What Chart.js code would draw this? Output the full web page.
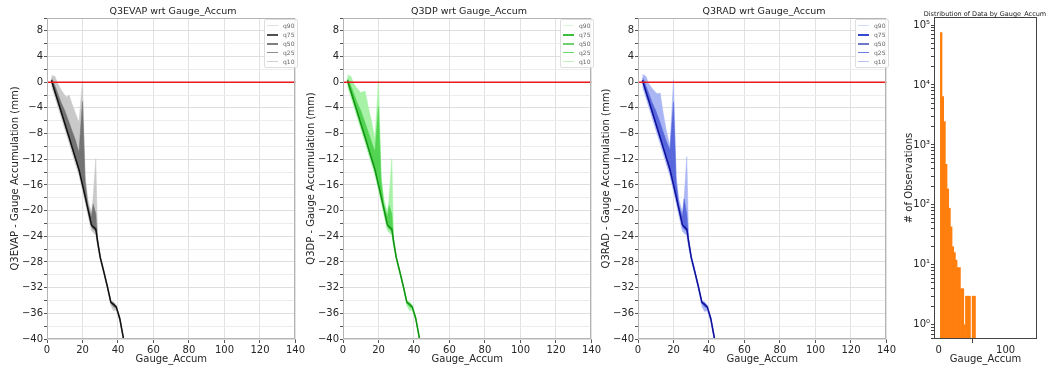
<!DOCTYPE html>
<html>
<head>
<meta charset="utf-8">
<script src="https://cdn.jsdelivr.net/npm/chart.js@4.4.0/dist/chart.umd.min.js"></script>
<style>
body { margin:0; background:#fff; width:1056px; height:369px; position:relative; overflow:hidden; font-family:"DejaVu Sans", sans-serif; }
canvas { position:absolute; top:0; }
.ttl { position:absolute; top:5px; font-size:9.5px; line-height:12px; color:#222; text-align:center; white-space:nowrap; transform:translateX(-50%); }
.leg { position:absolute; border:1px solid #ddd; background:rgba(255,255,255,0.85); border-radius:2px; font-size:6px; color:#666; padding:1px 3px 1px 2px; }
.leg div { height:9px; line-height:9px; display:flex; align-items:center; }
.leg span { display:inline-block; width:11px; margin-right:5px; }
</style>
</head>
<body>
<canvas id="c1" width="306" height="369" style="left:0px"></canvas>
<canvas id="c2" width="306" height="369" style="left:296px"></canvas>
<canvas id="c3" width="306" height="369" style="left:591px"></canvas>
<canvas id="c4" width="166" height="369" style="left:890px"></canvas>

<div class="ttl" style="left:173px">Q3EVAP wrt Gauge_Accum</div>
<div class="ttl" style="left:469px">Q3DP wrt Gauge_Accum</div>
<div class="ttl" style="left:764px">Q3RAD wrt Gauge_Accum</div>
<div class="ttl" style="left:985px;top:8px;font-size:6.5px">Distribution of Data by Gauge_Accum</div>

<div class="leg" id="l1" style="left:264px;top:19px"></div>
<div class="leg" id="l2" style="left:560px;top:19px"></div>
<div class="leg" id="l3" style="left:855px;top:19px"></div>

<script>
// gauge accumulation bins (x) shared by the three quantile panels
var gaugeX = [2.5, 3.5, 4.5, 6, 8, 10, 11, 12.5, 14, 16, 18, 20, 21.5, 23, 25, 26, 27.5, 28.5, 30, 32, 34, 36, 37.5, 39, 41, 43, 45];

// Q3EVAP - gauge
var evapQ90 = [1.0, 1.0, 0.9, -0.2, -1.2, -2.0, -2.3, -2.0, -3.3, -4.8, -6.3, 0.2, -14.5, -18.2, -20.3, -18.0, -11.9, -24.0, -27.0, -29.2, -31.5, -34.0, -34.2, -34.7, -36.5, -39.5, -42.7];
var evapQ75 = [0.6, 0.1, -0.6, -1.7, -3.2, -4.4, -5.2, -6.3, -7.5, -9.0, -11.0, -3.0, -15.5, -19.0, -21.0, -19.0, -20.5, -24.5, -27.2, -29.4, -31.7, -34.2, -34.4, -34.9, -36.7, -39.7, -42.9];
var evapQ50 = [0.3, -0.6, -1.5, -2.8, -4.6, -6.4, -7.3, -8.6, -10.0, -11.8, -13.6, -16.0, -17.8, -19.7, -22.2, -22.5, -22.9, -24.8, -27.3, -29.5, -31.8, -34.3, -34.6, -35.0, -36.8, -39.8, -43.0];
var evapQ25 = [-0.1, -1.0, -1.9, -3.2, -5.0, -6.8, -7.7, -9.0, -10.4, -12.2, -14.0, -16.4, -18.2, -20.1, -22.6, -22.9, -23.3, -25.2, -27.5, -29.7, -32.0, -34.5, -35.0, -35.2, -37.0, -40.0, -43.2];
var evapQ10 = [-0.6, -1.5, -2.4, -3.7, -5.5, -7.3, -8.2, -9.5, -10.9, -12.7, -14.5, -16.9, -18.7, -20.6, -23.1, -23.4, -23.8, -25.6, -27.7, -29.9, -32.2, -34.8, -35.6, -35.5, -37.2, -40.2, -43.4];

// Q3DP - gauge
var dpQ90 = [1.1, 1.0, 0.9, -0.2, -1.0, -1.6, -1.5, -1.4, -3.5, -6.0, -8.8, 0.3, -14.5, -18.2, -20.3, -18.0, -11.9, -24.0, -27.0, -29.2, -31.5, -34.0, -34.2, -34.7, -36.5, -39.5, -42.7];
var dpQ75 = [0.6, 0.1, -0.6, -1.7, -3.2, -4.4, -5.2, -6.3, -7.6, -9.2, -10.8, -3.8, -15.5, -19.0, -21.0, -19.2, -20.5, -24.5, -27.2, -29.4, -31.7, -34.2, -34.4, -34.9, -36.7, -39.7, -42.9];
var dpQ50 = [0.3, -0.6, -1.5, -2.8, -4.6, -6.4, -7.3, -8.6, -10.0, -11.8, -13.6, -16.0, -17.8, -19.7, -22.2, -22.5, -22.9, -24.8, -27.3, -29.5, -31.8, -34.3, -34.6, -35.0, -36.8, -39.8, -43.0];
var dpQ25 = [-0.1, -1.0, -1.9, -3.2, -5.0, -6.8, -7.7, -9.0, -10.4, -12.2, -14.0, -16.4, -18.2, -20.1, -22.6, -22.9, -23.3, -25.2, -27.5, -29.7, -32.0, -34.5, -35.0, -35.2, -37.0, -40.0, -43.2];
var dpQ10 = [-0.6, -1.5, -2.4, -3.7, -5.5, -7.3, -8.2, -9.5, -10.9, -12.7, -14.5, -16.9, -18.7, -20.6, -23.1, -23.4, -23.8, -25.6, -27.7, -29.9, -32.2, -34.8, -35.6, -35.5, -37.2, -40.2, -43.4];

// Q3RAD - gauge
var radQ90 = [1.2, 1.1, 0.9, -0.2, -1.0, -1.6, -1.8, -1.7, -4.5, -7.6, -10.0, 0.4, -14.5, -18.2, -20.3, -18.0, -11.6, -24.0, -27.0, -29.2, -31.5, -34.0, -34.2, -34.7, -36.5, -39.5, -42.7];
var radQ75 = [0.7, 0.2, -0.6, -1.7, -3.2, -4.4, -5.2, -6.3, -7.6, -9.2, -10.6, -3.1, -15.5, -19.0, -21.0, -18.2, -20.5, -24.5, -27.2, -29.4, -31.7, -34.2, -34.4, -34.9, -36.7, -39.7, -42.9];
var radQ50 = [0.3, -0.6, -1.5, -2.8, -4.6, -6.4, -7.3, -8.6, -10.0, -11.8, -13.6, -16.0, -17.8, -19.7, -22.2, -22.5, -22.9, -24.8, -27.3, -29.5, -31.8, -34.3, -34.6, -35.0, -36.8, -39.8, -43.0];
var radQ25 = [-0.1, -1.0, -1.9, -3.2, -5.0, -6.8, -7.7, -9.0, -10.4, -12.2, -14.0, -16.4, -18.2, -20.1, -22.6, -22.9, -23.3, -25.2, -27.5, -29.7, -32.0, -34.5, -35.0, -35.2, -37.0, -40.0, -43.2];
var radQ10 = [-0.7, -1.6, -2.5, -3.8, -5.6, -7.4, -8.3, -9.6, -11.0, -12.8, -14.6, -17.0, -18.8, -20.7, -23.2, -23.5, -23.9, -25.7, -27.8, -30.0, -32.3, -34.9, -35.7, -35.6, -37.3, -40.3, -43.5];

// histogram of gauge accumulation
var binCenters = [3.75, 6.25, 8.75, 11.25, 13.75, 16.25, 18.75, 21.25, 23.75, 26.25, 28.75, 31.25, 33.75, 36.25, 38.75, 41.25, 43.75, 46.25, 48.75, 51.25, 53.75];
var binCounts = [75000, 6400, 2450, 475, 185, 88, 43, 20, 16, 12, 9, 9, 4, 4, 1, 3, 3, 3, null, 3, 3];

var xTicks = [0, 20, 40, 60, 80, 100, 120, 140];
var yTicks = [-40, -38, -36, -34, -32, -30, -28, -26, -24, -22, -20, -18, -16, -14, -12, -10, -8, -6, -4, -2, 0, 2, 4, 6, 8, 10];
var quantNames = ["q90", "q75", "q50", "q25", "q10"];

var txt = "#262626";
var fnt = { family: "DejaVu Sans", size: 10 };

function minus(v) {
	return v < 0 ? "\u2212" + Math.abs(v) : String(v);
}

function pts(ys) {
	return gaugeX.map(function(x, i) { return { x: x, y: ys[i] }; });
}

var framePlugin = {
	id: "frame",
	afterDatasetsDraw: function(chart, args, opts) {
		var a = chart.chartArea, c = chart.ctx;
		c.save();
		c.strokeStyle = opts.color;
		c.lineWidth = 1;
		c.strokeRect(Math.round(a.left) + 0.5, Math.round(a.top) + 0.5, Math.round(a.right - a.left) - 1, Math.round(a.bottom - a.top) - 1);
		c.restore();
	}
};

function bandChart(id, q, col, ylabel) {
	var ctx = document.getElementById(id).getContext("2d");
	// index 0 is drawn last (on top): zero line, then median, then the two bands
	return new Chart(ctx, {
		type: "line",
		data: {
			datasets: [
				{ data: [{ x: 0, y: 0 }, { x: 140, y: 0 }], borderColor: "#e8191c", borderWidth: 1.5 },
				{ data: pts(q[2]), borderColor: col.mid, borderWidth: 1.5 },
				{ data: pts(q[1]), borderColor: col.dark, borderWidth: 0.5, backgroundColor: col.dark, fill: 4 },
				{ data: pts(q[0]), borderColor: col.light, borderWidth: 0.5, backgroundColor: col.light, fill: 5 },
				{ data: pts(q[3]), borderColor: col.dark, borderWidth: 0.5 },
				{ data: pts(q[4]), borderColor: col.light, borderWidth: 0.5 }
			]
		},
		options: {
			responsive: false,
			animation: false,
			events: [],
			layout: { padding: { left: 0, top: 18, right: 6, bottom: 0 } },
			elements: { point: { radius: 0 }, line: { tension: 0 } },
			plugins: { legend: { display: false }, tooltip: { enabled: false }, frame: { color: "#b4b4b4" } },
			scales: {
				x: {
					type: "linear", min: 0, max: 140,
					afterBuildTicks: function(s) { s.ticks = xTicks.map(function(v) { return { value: v }; }); },
					afterFit: function(s) { s.height = 30; },
					ticks: { font: fnt, color: txt, padding: 1, maxRotation: 0, autoSkip: false },
					grid: { color: "#e2e2e2", tickColor: "#555", tickLength: 4 },
					border: { display: false },
					title: { display: true, text: "Gauge_Accum", font: fnt, color: txt, padding: { top: 0, bottom: 4 } }
				},
				y: {
					min: -40, max: 10,
					afterBuildTicks: function(s) { s.ticks = yTicks.map(function(v) { return { value: v }; }); },
					afterFit: function(s) { s.width = 47; },
					ticks: { font: fnt, color: txt, padding: 1, autoSkip: false,
						callback: function(v) { return v % 4 === 0 ? minus(v) : ""; } },
					grid: { color: function(c) { return c.tick && c.tick.value % 4 === 0 ? "#dedede" : "#ececec"; },
						tickColor: "#555", tickLength: 3 },
					border: { display: false },
					title: { display: true, text: ylabel, font: fnt, color: txt, padding: { top: 9, bottom: 0 } }
				}
			}
		},
		plugins: [framePlugin]
	});
}

function legendBox(id, colors, widths) {
	var box = document.getElementById(id);
	quantNames.forEach(function(n, i) {
		var row = document.createElement("div");
		var sw = document.createElement("span");
		sw.style.borderTop = widths[i] + "px solid " + colors[i];
		row.appendChild(sw);
		row.appendChild(document.createTextNode(n));
		box.appendChild(row);
	});
}

bandChart("c1", [evapQ90, evapQ75, evapQ50, evapQ25, evapQ10],
	{ light: "#c9c9c9", dark: "#737373", mid: "#111111" }, "Q3EVAP - Gauge Accumulation (mm)");
bandChart("c2", [dpQ90, dpQ75, dpQ50, dpQ25, dpQ10],
	{ light: "#a8f2a8", dark: "#52d452", mid: "#139213" }, "Q3DP - Gauge Accumulation (mm)");
bandChart("c3", [radQ90, radQ75, radQ50, radQ25, radQ10],
	{ light: "#aab6f4", dark: "#5868dc", mid: "#10109a" }, "Q3RAD - Gauge Accumulation (mm)");

var lw = [1.2, 2.2, 2.2, 1.5, 1.2];
legendBox("l1", ["#e0e0e0", "#505050", "#808080", "#8c8c8c", "#d0d0d0"], lw);
legendBox("l2", ["#d8f8d8", "#3cbf3c", "#6fd06f", "#68d868", "#bff2bf"], lw);
legendBox("l3", ["#d4dbfa", "#3548d0", "#6d78c8", "#6b7be4", "#b9c2f5"], lw);

// histogram
var sup = ["\u2070", "\u00b9", "\u00b2", "\u00b3", "\u2074", "\u2075"];
var logTicks = [0.6, 0.7, 0.8, 0.9];
[1, 10, 100, 1000, 10000, 100000].forEach(function(p) {
	for (var m = 1; m <= 9; m++) { if (m * p <= 136000) logTicks.push(m * p); }
});

new Chart(document.getElementById("c4").getContext("2d"), {
	type: "bar",
	data: {
		datasets: [{
			data: binCenters.map(function(x, i) { return { x: x, y: binCounts[i] }; }),
			backgroundColor: "#ff7f0e",
			borderWidth: 0,
			barPercentage: 1,
			categoryPercentage: 1
		}]
	},
	options: {
		responsive: false,
		animation: false,
		events: [],
		layout: { padding: { left: 0, top: 17, right: 19, bottom: 0 } },
		plugins: { legend: { display: false }, tooltip: { enabled: false }, frame: { color: "#444" } },
		scales: {
			x: {
				type: "linear", min: -7, max: 147, offset: false,
				afterBuildTicks: function(s) { s.ticks = [{ value: 0 }, { value: 100 }]; },
				afterFit: function(s) { s.height = 30; },
				ticks: { font: fnt, color: txt, padding: 1, maxRotation: 0, autoSkip: false },
				grid: { display: true, drawOnChartArea: false, tickColor: "#444", tickLength: 4 },
				border: { display: false },
				title: { display: true, text: "Gauge_Accum", font: fnt, color: txt, padding: { top: 0, bottom: 4 } }
			},
			y: {
				type: "logarithmic", min: 0.58, max: 136000,
				afterBuildTicks: function(s) { s.ticks = logTicks.map(function(v) { return { value: v }; }); },
				afterFit: function(s) { s.width = 44; },
				ticks: { font: fnt, color: txt, padding: 1, autoSkip: false,
					callback: function(v) {
						var e = Math.round(Math.log10(v));
						return Math.abs(Math.log10(v) - e) < 1e-9 ? "10" + sup[e] : "";
					} },
				grid: { display: true, drawOnChartArea: false, tickColor: "#444",
					tickLength: 3 },
				border: { display: false },
				title: { display: true, text: "# of Observations", font: fnt, color: txt, padding: { top: 13, bottom: 0 } }
			}
		}
	},
	plugins: [framePlugin]
});
</script>
</body>
</html>
